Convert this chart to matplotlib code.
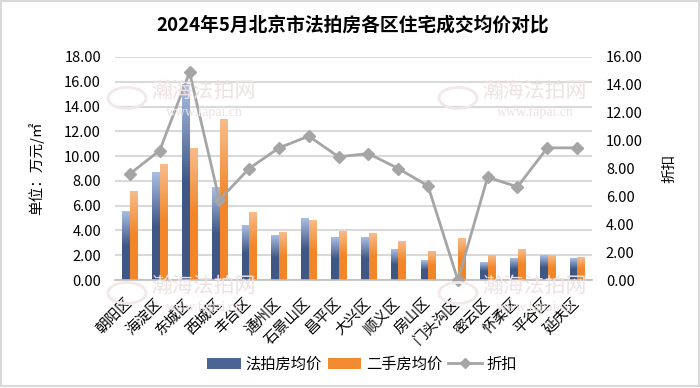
import numpy as np
import matplotlib
matplotlib.use('Agg')
import matplotlib.pyplot as plt
from matplotlib.colors import LinearSegmentedColormap
from matplotlib.patches import Patch, Rectangle, Circle
from matplotlib.lines import Line2D
from matplotlib.ticker import FormatStrFormatter

plt.rcParams['font.family'] = ['Noto Sans CJK SC', 'DejaVu Sans']

districts = ['朝阳区', '海淀区', '东城区', '西城区', '丰台区', '通州区', '石景山区', '昌平区',
             '大兴区', '顺义区', '房山区', '门头沟区', '密云区', '怀柔区', '平谷区', '延庆区']
auction_price = [5.50, 8.65, 15.80, 7.44, 4.37, 3.56, 4.96, 3.42,
                 3.42, 2.50, 1.56, 0.00, 1.45, 1.70, 1.97, 1.70]
second_hand_price = [7.17, 9.35, 10.60, 12.93, 5.44, 3.80, 4.77, 3.94,
                     3.74, 3.10, 2.32, 3.31, 1.97, 2.50, 1.97, 1.80]
discount = [7.62, 9.29, 14.90, 5.75, 8.00, 9.48, 10.32, 8.84,
            9.07, 8.00, 6.75, 0.00, 7.38, 6.68, 9.48, 9.48]

title = '2024年5月北京市法拍房各区住宅成交均价对比'

fig = plt.figure(figsize=(7, 3.88), dpi=100)
ax = fig.add_axes([115/700, 1-280/388, (592-115)/700, (280-57)/388])
ax2 = ax.twinx()

x = np.arange(len(districts))
w = 0.245
blue_bars = ax.bar(x - 0.13, auction_price, w, color='#4a6594', zorder=2)
orange_bars = ax.bar(x + 0.13, second_hand_price, w, color='#f28a30', zorder=2)


def grad_bars(bars, c_dark, c_light):
    # lighter at the top of each bar, like the Excel gradient fill
    cmap = LinearSegmentedColormap.from_list('g', [(0, c_dark), (0.5, c_dark), (1, c_light)])
    for b in bars:
        bx, bw, bh = b.get_x(), b.get_width(), b.get_height()
        if bh <= 0:
            continue
        ax.imshow(np.linspace(0, 1, 64).reshape(-1, 1), extent=(bx, bx + bw, 0, bh),
                  origin='lower', aspect='auto', cmap=cmap, zorder=2.1)
        b.set_facecolor('none')


grad_bars(blue_bars, '#3f5785', '#a8bde2')
grad_bars(orange_bars, '#f28628', '#f8bb8a')

ax.set_xlim(-0.5, len(districts) - 0.5)
ax.set_ylim(0, 18)
ax.set_yticks(np.arange(0, 18.1, 2))
ax.yaxis.set_major_formatter(FormatStrFormatter('%.2f'))
ax.grid(axis='y', color='#d9d9d9', linewidth=1.5, zorder=0)
ax.set_axisbelow(True)
ax.set_xticks(x)
ax.set_xticklabels(districts, rotation=45, ha='right', va='center', rotation_mode='anchor', fontsize=10.5)
ax.tick_params(axis='x', length=0, pad=15)
ax.tick_params(axis='y', length=0, pad=10, labelsize=10.5)
for s in ['top', 'right', 'left']:
    ax.spines[s].set_visible(False)
ax.spines['bottom'].set_color('#bfbfbf')
ax.spines['bottom'].set_linewidth(1.2)
ax.set_ylabel('单位：万元/㎡', fontsize=10.5, labelpad=14)

ax2.plot(x, discount, color='#a5a5a5', linewidth=2, marker='D', markersize=6, clip_on=False, zorder=3)
ax2.set_ylim(0, 16)
ax2.set_yticks(np.arange(0, 16.1, 2))
ax2.yaxis.set_major_formatter(FormatStrFormatter('%.2f'))
ax2.tick_params(axis='y', length=0, pad=10, labelsize=10.5)
for s in ['top', 'right', 'left', 'bottom']:
    ax2.spines[s].set_visible(False)
ax2.set_ylabel('折扣', fontsize=10.5, rotation=90, labelpad=14)

fig.text(353/700, 1-25/388, title, ha='center', va='center', fontsize=13.5, fontweight='bold')

# watermarks
wm = '#eee2e2'
for wx, wy in [(204, 91), (535, 91), (204, 286), (535, 286)]:
    fig.text(wx/700, 1-wy/388, '瀚海法拍网', ha='center', va='center', fontsize=15, color=wm, zorder=0)
    fig.text(wx/700, 1-(wy+21)/388, 'www.fapai.cn', ha='center', va='center', fontsize=10,
             color=wm, family='Liberation Serif', zorder=0)
    fig.patches.append(Circle(((wx-77)/700, 1-(wy+7)/388), 19/700, transform=fig.transFigure,
                              fill=False, edgecolor='#f2e8e8', linewidth=2, zorder=0))

handles = [Patch(facecolor='#4a6594'), Patch(facecolor='#f28a30'),
           Line2D([], [], color='#a5a5a5', linewidth=2, marker='D', markersize=5)]
fig.legend(handles, ['法拍房均价', '二手房均价', '折扣'], loc='center', bbox_to_anchor=(362/700, 1-364/388),
           ncol=3, frameon=False, fontsize=11, handlelength=2.2, handletextpad=0.3, columnspacing=0.4)

fig.patches.append(Rectangle((0.002, 0.004), 0.996, 0.993, transform=fig.transFigure,
                             fill=False, edgecolor='#d9d9d9', linewidth=1.5))

fig.savefig('out.png', dpi=100)
